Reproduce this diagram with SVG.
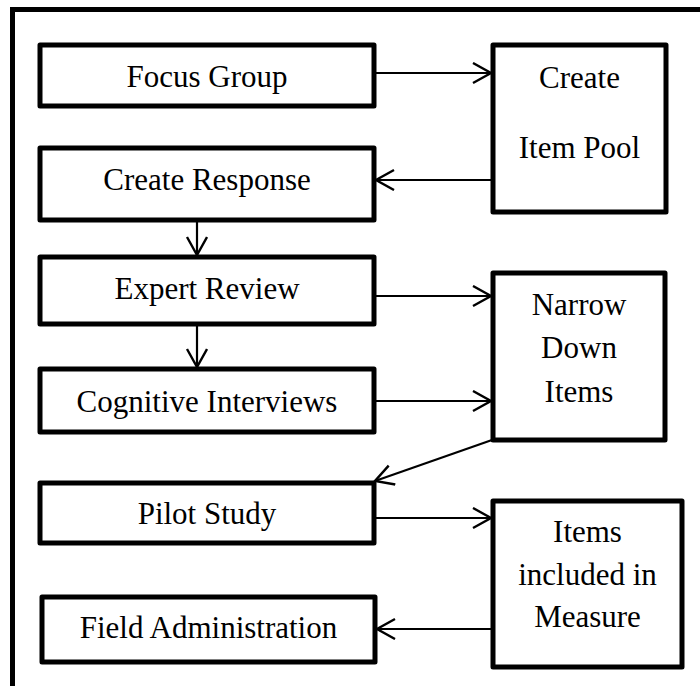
<svg xmlns="http://www.w3.org/2000/svg" width="700" height="686" viewBox="0 0 700 686">
<defs>
<style>
.box{fill:#fff;stroke:#000;stroke-width:5;stroke-linejoin:round}
.c{fill:none;stroke:#000;stroke-width:2.2}
</style>
<marker id="ah" markerUnits="userSpaceOnUse" markerWidth="24" markerHeight="24" refX="19" refY="11" orient="auto">
<path d="M1,1 L19,11 L1,21" fill="none" stroke="#000" stroke-width="2.4"/>
</marker>
</defs>
<rect width="700" height="686" fill="#fff"/>
<path d="M12.5,686 L12.5,9.5 L700,9.5" fill="none" stroke="#000" stroke-width="5"/>
<g id="connectors">
<line class="c" x1="374" y1="73" x2="491" y2="73" marker-end="url(#ah)"/>
<line class="c" x1="493" y1="180" x2="376" y2="180" marker-end="url(#ah)"/>
<line class="c" x1="197" y1="220" x2="197" y2="255" marker-end="url(#ah)"/>
<line class="c" x1="374" y1="296" x2="491" y2="296" marker-end="url(#ah)"/>
<line class="c" x1="197" y1="324" x2="197" y2="367" marker-end="url(#ah)"/>
<line class="c" x1="374" y1="401" x2="491" y2="401" marker-end="url(#ah)"/>
<line class="c" x1="492" y1="440" x2="375" y2="481" marker-end="url(#ah)"/>
<line class="c" x1="374" y1="518" x2="491" y2="518" marker-end="url(#ah)"/>
<line class="c" x1="493" y1="629" x2="377" y2="629" marker-end="url(#ah)"/>
</g>
<g font-family="Liberation Serif" font-size="31" text-anchor="middle" fill="#000">
<g id="focus-group"><rect class="box" x="40" y="45" width="334" height="61"/><text x="207" y="87">Focus Group</text></g>
<g id="create-item-pool"><rect class="box" x="493" y="45" width="173" height="167"/><text x="579.5" y="88">Create</text><text x="579.5" y="158">Item Pool</text></g>
<g id="create-response"><rect class="box" x="40" y="148" width="334" height="72"/><text x="207" y="190">Create Response</text></g>
<g id="expert-review"><rect class="box" x="40" y="257" width="334" height="67"/><text x="207" y="299">Expert Review</text></g>
<g id="cognitive-interviews"><rect class="box" x="40" y="369" width="334" height="63"/><text x="207" y="412">Cognitive Interviews</text></g>
<g id="narrow-down-items"><rect class="box" x="493" y="273" width="172" height="167"/><text x="579" y="315">Narrow</text><text x="579" y="358">Down</text><text x="579" y="402">Items</text></g>
<g id="pilot-study"><rect class="box" x="40" y="483" width="334" height="60"/><text x="207" y="524">Pilot Study</text></g>
<g id="items-included"><rect class="box" x="493" y="501" width="189" height="166"/><text x="587.5" y="542">Items</text><text x="587.5" y="585">included in</text><text x="587.5" y="627">Measure</text></g>
<g id="field-administration"><rect class="box" x="42" y="597" width="333" height="65"/><text x="208.5" y="638">Field Administration</text></g>
</g>
</svg>
